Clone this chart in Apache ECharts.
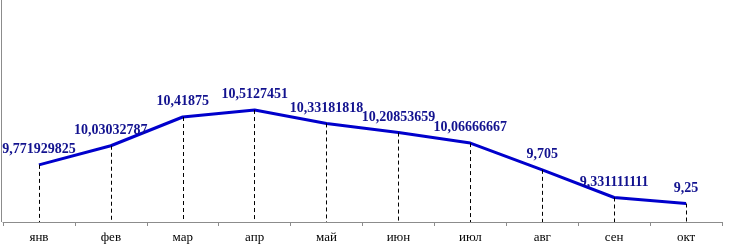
<!DOCTYPE html>
<html><head><meta charset="utf-8">
<script src="https://cdn.jsdelivr.net/npm/echarts@6/dist/echarts.min.js"></script>
<style>html,body{margin:0;padding:0;background:#fff}#c{width:736px;height:252px}</style>
</head><body><div id="c"></div>
<script>
const categories = ['янв','фев','мар','апр','май','июн','июл','авг','сен','окт'];
const values = [9.771929825, 10.03032787, 10.41875, 10.5127451, 10.33181818, 10.20853659, 10.06666667, 9.705, 9.331111111, 9.25];
const labelTexts = ['9,771929825','10,03032787','10,41875','10,5127451','10,33181818','10,20853659','10,06666667','9,705','9,331111111','9,25'];

const chart = echarts.init(document.getElementById('c'), null, {renderer:'canvas'});
chart.setOption({
  animation:false,
  backgroundColor:'#fff',
  grid:{left:3, right:14, top:74, bottom:30},
  xAxis:{type:'category', data:categories, boundaryGap:true,
    axisLine:{lineStyle:{color:'#8c8c8c', width:1}},
    axisTick:{show:true, alignWithLabel:false, length:4, lineStyle:{color:'#8c8c8c'}},
    axisLabel:{color:'#000', fontFamily:'Liberation Serif', fontSize:13, margin:9}},
  yAxis:{type:'value', min:9, max:11, show:false, splitLine:{show:false}},
  graphic:[{type:'line', shape:{x1:1.5,y1:0,x2:1.5,y2:222}, style:{stroke:'#8c8c8c', lineWidth:1}}],
  series:[{
    type:'line', data:values, symbol:'none',
    lineStyle:{color:'#0000cc', width:3},
    markLine:{symbol:'none', silent:true, label:{show:false},
      lineStyle:{color:'#000', type:[4,3], width:1},
      data: values.map((v,i)=>[{coord:[i,v]},{coord:[i,9]}])}
  },{
    type:'scatter', data:values, symbolSize:1, z:5,
    itemStyle:{color:'rgba(0,0,0,0)', opacity:1},
    label:{show:true, position:'top', distance:8, color:'#12128f', opacity:1, fontFamily:'Liberation Serif', fontWeight:'bold', fontSize:14,
      formatter:p=>labelTexts[p.dataIndex]}
  }]
});
</script></body></html>
